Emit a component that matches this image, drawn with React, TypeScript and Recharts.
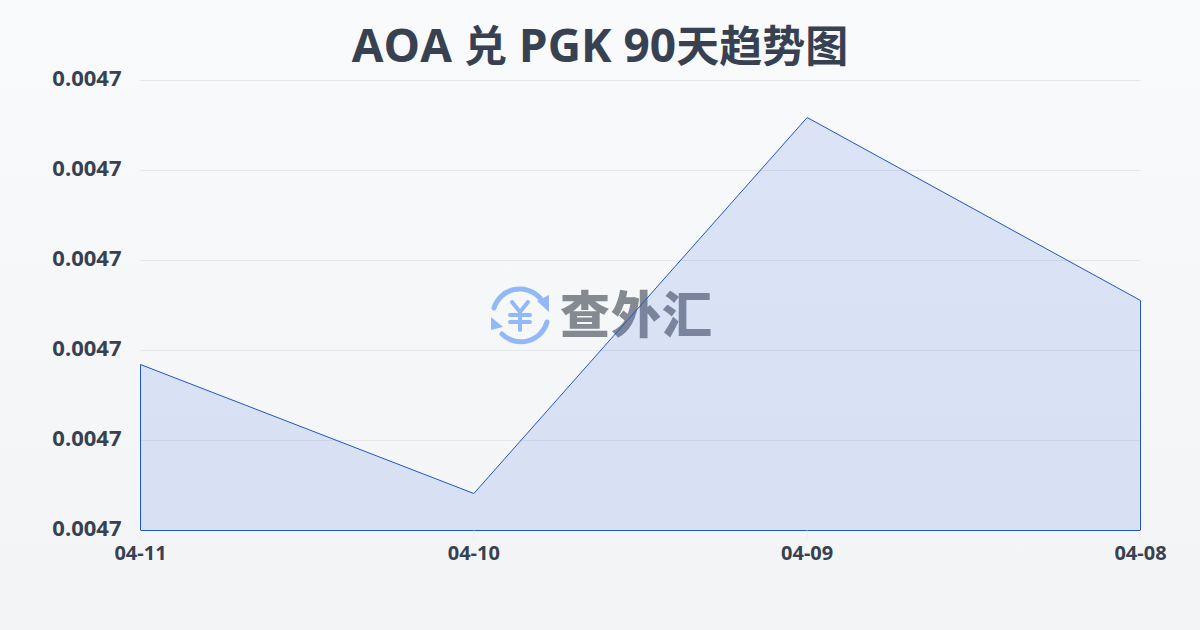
import React from "react";
import { AreaChart, Area, XAxis, YAxis, CartesianGrid, ReferenceLine } from "recharts";

const categories = ["04-11", "04-10", "04-09", "04-08"];
const rates = [0.00469844, 0.00468411, 0.00472589, 0.00470556];
const yTicks = [0.00468, 0.00469, 0.0047, 0.00471, 0.00472, 0.00473];
const titleParts = ["AOA ", "兑", " PGK 90", "天趋势图"];
const brandText = "查外汇";

const rows = categories.map((date, i) => ({ date, rate: rates[i] }));
const FONT = "'Open Sans', 'Noto Sans CJK SC', sans-serif";
const BLUE = "#2255c4";

function Watermark() {
  return (
    <svg width={260} height={80} style={{ position: "absolute", left: 485, top: 280 }}>
      <g fill="none" stroke="#93b8f8" strokeWidth={5} strokeLinecap="round" strokeLinejoin="round">
        <path d="M9 28 A27 27 0 0 1 55 18" />
        <path d="M62 42 A27 27 0 0 1 17 54" />
      </g>
      <g fill="none" stroke="#93b8f8" strokeWidth={4} strokeLinecap="round" strokeLinejoin="round">
        <path d="M27 22 L35 32 L43 22 M35 32 V50 M25 35 H45 M25 42 H45" />
      </g>
      <path d="M52 21 L64 15 L64 32 Z" fill="#93b8f8" />
      <path d="M6 37 L6 50 L18 47 Z" fill="#93b8f8" />
      <text x={75} y={53} fontFamily="'Noto Sans CJK SC', sans-serif" fontWeight={900} fontSize={50} letterSpacing={1} fill="#858a92">{brandText}</text>
    </svg>
  );
}

export default function App() {
  return (
    <div style={{ position: "fixed", left: 0, top: 0, width: 1200, height: 630, overflow: "hidden", background: "linear-gradient(180deg, #f8fafc 0%, #f3f4f6 100%)" }}>
      <div style={{ position: "absolute", left: 0, top: 12, width: 1200, textAlign: "center", fontFamily: FONT, fontWeight: 700, fontSize: 46, lineHeight: "64px", color: "#374151", whiteSpace: "pre" }}>
        {titleParts.map((part, i) => (
          <span key={i} style={{ fontSize: i % 2 === 1 ? 43 : 46 }}>{part}</span>
        ))}
      </div>
      <Watermark />
      <div style={{ position: "absolute", left: 0, top: 0 }}>
        <AreaChart width={1200} height={630} data={rows} margin={{ top: 80.5, right: 59.5, bottom: 0, left: 0 }}>
          <CartesianGrid horizontal vertical={false} stroke="#e5e7eb" strokeWidth={1} />
          <XAxis dataKey="date" height={99.5} axisLine={false} tickLine={{ stroke: "#eceef0" }} tickSize={10} tickMargin={5} interval={0} padding={{ left: 0, right: 0 }} tick={{ fontFamily: FONT, fontWeight: 700, fontSize: 20, fill: "#374151" }} />
          <YAxis width={140.5} domain={[yTicks[0], yTicks[yTicks.length - 1]]} ticks={yTicks} tickFormatter={(v: number) => v.toFixed(4)} axisLine={false} tickLine={false} tickSize={0} tickMargin={19} tick={{ fontFamily: FONT, fontWeight: 700, fontSize: 22, fill: "#374151", dy: -2 }} />
          <Area type="linear" dataKey="rate" stroke={BLUE} strokeWidth={1} fill="#3a6ee0" fillOpacity={0.15} isAnimationActive={false} dot={false} activeDot={false} />
          <ReferenceLine stroke={BLUE} strokeWidth={1} segment={[{ x: categories[0], y: yTicks[0] }, { x: categories[0], y: rates[0] }]} />
          <ReferenceLine stroke={BLUE} strokeWidth={1} segment={[{ x: categories[3], y: yTicks[0] }, { x: categories[3], y: rates[3] }]} />
          <ReferenceLine y={yTicks[0]} stroke={BLUE} strokeWidth={1} />
        </AreaChart>
      </div>
    </div>
  );
}
